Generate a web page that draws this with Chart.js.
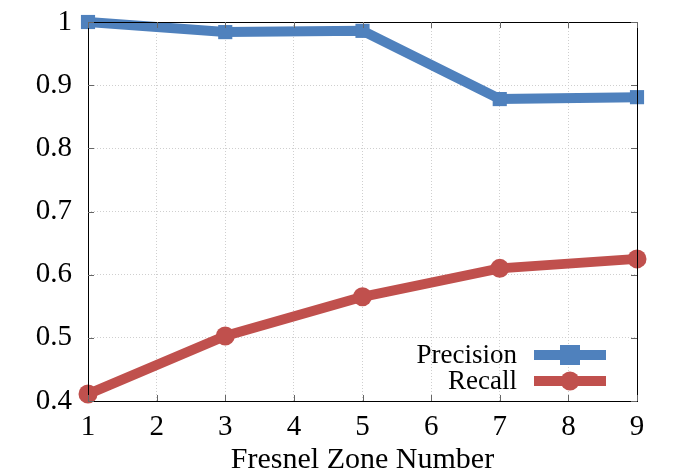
<!DOCTYPE html>
<html>
<head>
<meta charset="utf-8">
<script src="https://cdn.jsdelivr.net/npm/chart.js@4"></script>
<style>
  html, body { margin: 0; padding: 0; background: #fff; }
  #wrap { width: 676px; height: 474px; }
</style>
</head>
<body>
<div id="wrap"><canvas id="chart" width="676" height="474"></canvas></div>
<script>
const zones = [1, 3, 5, 7, 9];
const precision = [1.0, 0.984, 0.986, 0.878, 0.881];
const recall = [0.411, 0.503, 0.565, 0.610, 0.625];
const xTicks = [1, 2, 3, 4, 5, 6, 7, 8, 9];
const yTicks = [0.4, 0.5, 0.6, 0.7, 0.8, 0.9, 1.0];

const BLUE = "#4f81bd";
const RED = "#c0504d";
const FONT = "'Liberation Serif', 'DejaVu Serif', serif";

// box + inner tick marks on all four sides
const frame = {
  id: "frame",
  afterDraw(chart) {
    const { ctx, chartArea: a, scales } = chart;
    ctx.save();
    ctx.strokeStyle = "#000";
    ctx.lineWidth = 1;
    ctx.strokeRect(a.left + 0.5, a.top + 0.5, a.right - a.left, a.bottom - a.top);
    ctx.strokeStyle = "#666";
    ctx.beginPath();
    xTicks.forEach(v => {
      const x = Math.round(scales.x.getPixelForValue(v)) + 0.5;
      ctx.moveTo(x, a.bottom); ctx.lineTo(x, a.bottom - 6);
      ctx.moveTo(x, a.top); ctx.lineTo(x, a.top + 6);
    });
    yTicks.forEach(v => {
      const y = Math.round(scales.y.getPixelForValue(v)) + 0.5;
      ctx.moveTo(a.left, y); ctx.lineTo(a.left + 6, y);
      ctx.moveTo(a.right, y); ctx.lineTo(a.right - 6, y);
    });
    ctx.stroke();
    ctx.restore();
  }
};

// legend inside the plot, text on the left of the sample
const innerLegend = {
  id: "innerLegend",
  afterDatasetsDraw(chart) {
    const { ctx } = chart;
    const rows = [
      { label: "Precision", color: BLUE, shape: "rect", y: 355 },
      { label: "Recall", color: RED, shape: "circle", y: 381 }
    ];
    ctx.save();
    ctx.font = "27px " + FONT;
    ctx.textAlign = "right";
    ctx.textBaseline = "middle";
    rows.forEach(r => {
      ctx.fillStyle = "#000";
      ctx.fillText(r.label, 517, r.y + 1);
      ctx.strokeStyle = r.color;
      ctx.lineWidth = 10;
      ctx.beginPath();
      ctx.moveTo(534, r.y); ctx.lineTo(606, r.y);
      ctx.stroke();
      ctx.fillStyle = r.color;
      if (r.shape === "rect") {
        ctx.fillRect(560, r.y - 10, 20, 20);
      } else {
        ctx.beginPath();
        ctx.arc(570, r.y, 9.5, 0, Math.PI * 2);
        ctx.fill();
      }
    });
    ctx.restore();
  }
};

new Chart(document.getElementById("chart"), {
  type: "line",
  data: {
    datasets: [{
      label: "Precision",
      data: zones.map((z, i) => ({ x: z, y: precision[i] })),
      borderColor: BLUE,
      backgroundColor: BLUE,
      borderWidth: 10,
      pointStyle: "rect",
      pointRadius: 10,
      pointBorderWidth: 0,
      tension: 0,
      clip: false
    }, {
      label: "Recall",
      data: zones.map((z, i) => ({ x: z, y: recall[i] })),
      borderColor: RED,
      backgroundColor: RED,
      borderWidth: 10,
      pointStyle: "circle",
      pointRadius: 9.5,
      pointBorderWidth: 0,
      tension: 0,
      clip: false
    }]
  },
  options: {
    responsive: false,
    animation: false,
    layout: { padding: { top: 22, right: 39, left: 0, bottom: 0 } },
    scales: {
      x: {
        type: "linear",
        min: 1,
        max: 9,
        afterBuildTicks: s => { s.ticks = xTicks.map(v => ({ value: v })); },
        afterFit: s => { s.height = 73; s.paddingLeft = 0; s.paddingRight = 0; },
        grid: { color: "#cfcfcf", borderDash: [1, 2], drawTicks: false },
        border: { display: false, dash: [1, 2] },
        ticks: { color: "#000", font: { family: FONT, size: 29 }, padding: 9 },
        title: {
          display: true,
          text: "Fresnel Zone Number",
          color: "#000",
          font: { family: FONT, size: 30, lineHeight: 1 },
          padding: { top: 0, bottom: -1 }
        }
      },
      y: {
        min: 0.4,
        max: 1.0,
        afterBuildTicks: s => { s.ticks = yTicks.map(v => ({ value: v })); },
        afterFit: s => { s.width = 88; s.paddingTop = 0; s.paddingBottom = 0; },
        grid: { color: "#cfcfcf", borderDash: [1, 2], drawTicks: false },
        border: { display: false, dash: [1, 2] },
        ticks: {
          color: "#000",
          font: { family: FONT, size: 29 },
          padding: 16,
          callback: v => (v === 1 ? "1" : v.toFixed(1))
        }
      }
    },
    plugins: {
      legend: { display: false },
      tooltip: { enabled: false }
    }
  },
  plugins: [frame, innerLegend]
});
</script>
</body>
</html>
